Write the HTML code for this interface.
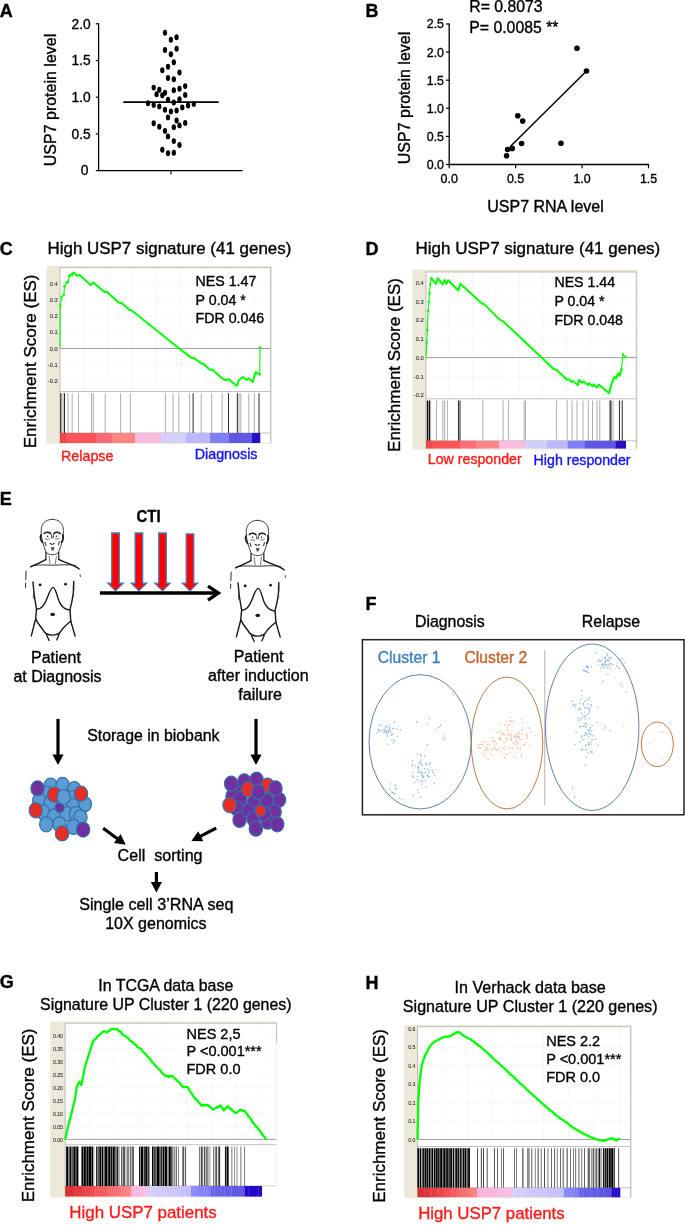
<!DOCTYPE html>
<html lang="en"><head><meta charset="utf-8"><title>Figure</title>
<style>html,body{margin:0;padding:0;background:#fff}svg{display:block}text{font-family:"Liberation Sans",Arial,Helvetica,sans-serif}</style>
</head><body>
<svg width="685" height="1225" viewBox="0 0 685 1225">
<rect width="685" height="1225" fill="#fff"/>
<text x="-0.2" y="16.8" font-size="18" text-anchor="start" fill="#000" stroke="#000" stroke-width="0.35" font-weight="bold" >A</text>
<path d="M98.6 23.2V170.6H242.5" fill="none" stroke="#000" stroke-width="1.3"/>
<path d="M95.8 170.6H98.6" stroke="#000" stroke-width="1.2"/>
<text x="88.4" y="175.4" font-size="13.8" text-anchor="end" fill="#000" stroke="#000" stroke-width="0.35" >0</text>
<path d="M95.8 133.9H98.6" stroke="#000" stroke-width="1.2"/>
<text x="90.8" y="138.7" font-size="13.8" text-anchor="end" fill="#000" stroke="#000" stroke-width="0.35" >0.5</text>
<path d="M95.8 97.2H98.6" stroke="#000" stroke-width="1.2"/>
<text x="90.8" y="102.0" font-size="13.8" text-anchor="end" fill="#000" stroke="#000" stroke-width="0.35" >1.0</text>
<path d="M95.8 60.5H98.6" stroke="#000" stroke-width="1.2"/>
<text x="90.8" y="65.3" font-size="13.8" text-anchor="end" fill="#000" stroke="#000" stroke-width="0.35" >1.5</text>
<path d="M95.8 23.8H98.6" stroke="#000" stroke-width="1.2"/>
<text x="90.8" y="28.6" font-size="13.8" text-anchor="end" fill="#000" stroke="#000" stroke-width="0.35" >2.0</text>
<path d="M171 170.6V174.6" stroke="#000" stroke-width="1.1"/>
<text transform="translate(56.4,100) rotate(-90)" font-size="16" text-anchor="middle" fill="#000" stroke="#000" stroke-width="0.35">USP7 protein level</text>
<path d="M123.3 102.1H218.7" stroke="#000" stroke-width="1.6"/>
<g fill="#000">
<ellipse cx="165.0" cy="32.7" rx="2.15" ry="2.95"/>
<ellipse cx="176.6" cy="37.2" rx="2.15" ry="2.95"/>
<ellipse cx="170.9" cy="39.8" rx="2.15" ry="2.95"/>
<ellipse cx="165.0" cy="50.0" rx="2.15" ry="2.95"/>
<ellipse cx="176.6" cy="48.8" rx="2.15" ry="2.95"/>
<ellipse cx="170.9" cy="54.3" rx="2.15" ry="2.95"/>
<ellipse cx="173.8" cy="62.3" rx="2.15" ry="2.95"/>
<ellipse cx="168.0" cy="66.8" rx="2.15" ry="2.95"/>
<ellipse cx="162.3" cy="70.3" rx="2.15" ry="2.95"/>
<ellipse cx="179.5" cy="72.5" rx="2.15" ry="2.95"/>
<ellipse cx="168.0" cy="78.0" rx="2.15" ry="2.95"/>
<ellipse cx="173.8" cy="79.3" rx="2.15" ry="2.95"/>
<ellipse cx="153.7" cy="87.6" rx="2.15" ry="2.95"/>
<ellipse cx="159.3" cy="89.8" rx="2.15" ry="2.95"/>
<ellipse cx="185.2" cy="86.1" rx="2.15" ry="2.95"/>
<ellipse cx="179.5" cy="88.8" rx="2.15" ry="2.95"/>
<ellipse cx="173.8" cy="90.3" rx="2.15" ry="2.95"/>
<ellipse cx="165" cy="92.7" rx="2.15" ry="2.95"/>
<ellipse cx="156.6" cy="94.2" rx="2.15" ry="2.95"/>
<ellipse cx="162.3" cy="95.3" rx="2.15" ry="2.95"/>
<ellipse cx="185.2" cy="94.9" rx="2.15" ry="2.95"/>
<ellipse cx="179.5" cy="99.2" rx="2.15" ry="2.95"/>
<ellipse cx="168" cy="99.6" rx="2.15" ry="2.95"/>
<ellipse cx="173.8" cy="102.5" rx="2.15" ry="2.95"/>
<ellipse cx="148" cy="103.3" rx="2.15" ry="2.95"/>
<ellipse cx="153.7" cy="104.9" rx="2.15" ry="2.95"/>
<ellipse cx="159.3" cy="106.4" rx="2.15" ry="2.95"/>
<ellipse cx="193.8" cy="103.9" rx="2.15" ry="2.95"/>
<ellipse cx="188.1" cy="105.5" rx="2.15" ry="2.95"/>
<ellipse cx="182.3" cy="107.4" rx="2.15" ry="2.95"/>
<ellipse cx="165" cy="109.8" rx="2.15" ry="2.95"/>
<ellipse cx="176.6" cy="110.5" rx="2.15" ry="2.95"/>
<ellipse cx="170.9" cy="111.5" rx="2.15" ry="2.95"/>
<ellipse cx="168" cy="117.4" rx="2.15" ry="2.95"/>
<ellipse cx="176.6" cy="120.5" rx="2.15" ry="2.95"/>
<ellipse cx="153.7" cy="123.3" rx="2.15" ry="2.95"/>
<ellipse cx="185.2" cy="122.9" rx="2.15" ry="2.95"/>
<ellipse cx="179.5" cy="125.4" rx="2.15" ry="2.95"/>
<ellipse cx="159.3" cy="126.8" rx="2.15" ry="2.95"/>
<ellipse cx="173.8" cy="127.2" rx="2.15" ry="2.95"/>
<ellipse cx="165" cy="130.9" rx="2.15" ry="2.95"/>
<ellipse cx="168" cy="136.4" rx="2.15" ry="2.95"/>
<ellipse cx="173.8" cy="141.1" rx="2.15" ry="2.95"/>
<ellipse cx="179.5" cy="145" rx="2.15" ry="2.95"/>
<ellipse cx="162.3" cy="149.7" rx="2.15" ry="2.95"/>
<ellipse cx="168" cy="153.2" rx="2.15" ry="2.95"/>
<ellipse cx="173.8" cy="152.8" rx="2.15" ry="2.95"/>
</g>
<text x="365.4" y="16.7" font-size="18" text-anchor="start" fill="#000" stroke="#000" stroke-width="0.35" font-weight="bold" >B</text>
<path d="M449.2 23.4V164.5H649.1" fill="none" stroke="#000" stroke-width="1.3"/>
<path d="M446 164.5H449.2" stroke="#000" stroke-width="1.2"/>
<text x="444" y="168.9" font-size="12.4" text-anchor="end" fill="#000" stroke="#000" stroke-width="0.35" >0.0</text>
<path d="M446 136.4H449.2" stroke="#000" stroke-width="1.2"/>
<text x="444" y="140.8" font-size="12.4" text-anchor="end" fill="#000" stroke="#000" stroke-width="0.35" >0.5</text>
<path d="M446 108.3H449.2" stroke="#000" stroke-width="1.2"/>
<text x="444" y="112.7" font-size="12.4" text-anchor="end" fill="#000" stroke="#000" stroke-width="0.35" >1.0</text>
<path d="M446 80.2H449.2" stroke="#000" stroke-width="1.2"/>
<text x="444" y="84.6" font-size="12.4" text-anchor="end" fill="#000" stroke="#000" stroke-width="0.35" >1.5</text>
<path d="M446 52.1H449.2" stroke="#000" stroke-width="1.2"/>
<text x="444" y="56.5" font-size="12.4" text-anchor="end" fill="#000" stroke="#000" stroke-width="0.35" >2.0</text>
<path d="M446 24.0H449.2" stroke="#000" stroke-width="1.2"/>
<text x="444" y="28.4" font-size="12.4" text-anchor="end" fill="#000" stroke="#000" stroke-width="0.35" >2.5</text>
<path d="M449.2 164.5V168.3" stroke="#000" stroke-width="1.2"/>
<text x="449.2" y="183.1" font-size="12.4" text-anchor="middle" fill="#000" stroke="#000" stroke-width="0.35" >0.0</text>
<path d="M515.6 164.5V168.3" stroke="#000" stroke-width="1.2"/>
<text x="515.6" y="183.1" font-size="12.4" text-anchor="middle" fill="#000" stroke="#000" stroke-width="0.35" >0.5</text>
<path d="M582.1 164.5V168.3" stroke="#000" stroke-width="1.2"/>
<text x="582.1" y="183.1" font-size="12.4" text-anchor="middle" fill="#000" stroke="#000" stroke-width="0.35" >1.0</text>
<path d="M648.5 164.5V168.3" stroke="#000" stroke-width="1.2"/>
<text x="648.5" y="183.1" font-size="12.4" text-anchor="middle" fill="#000" stroke="#000" stroke-width="0.35" >1.5</text>
<text x="545.5" y="212.2" font-size="16" text-anchor="middle" fill="#000" stroke="#000" stroke-width="0.35" >USP7 RNA level</text>
<text transform="translate(409.5,98) rotate(-90)" font-size="16" text-anchor="middle" fill="#000" stroke="#000" stroke-width="0.35">USP7 protein level</text>
<text x="469.3" y="11.7" font-size="15.8" text-anchor="start" fill="#000" stroke="#000" stroke-width="0.35" >R= 0.8073</text>
<text x="469.3" y="32.5" font-size="15.8" text-anchor="start" fill="#000" stroke="#000" stroke-width="0.35" >P= 0.0085 **</text>
<path d="M510.1 146.7L586.5 71" stroke="#000" stroke-width="1.5"/>
<g fill="#000">
<circle cx="577" cy="48.2" r="2.8"/>
<circle cx="586.5" cy="71" r="2.8"/>
<circle cx="517.8" cy="115.8" r="2.8"/>
<circle cx="522.7" cy="121.1" r="2.8"/>
<circle cx="521.6" cy="143.5" r="2.8"/>
<circle cx="560.9" cy="143.2" r="2.8"/>
<circle cx="507.6" cy="149.5" r="2.8"/>
<circle cx="512.2" cy="148.4" r="2.8"/>
<circle cx="506.6" cy="155.8" r="2.8"/>
</g>
<text x="-0.3" y="254.5" font-size="18" text-anchor="start" fill="#000" stroke="#000" stroke-width="0.35" font-weight="bold" >C</text>
<text x="47.5" y="253.5" font-size="16.95" text-anchor="start" fill="#000" stroke="#000" stroke-width="0.35" >High USP7 signature (41 genes)</text>
<text transform="translate(35.8,361.4) rotate(-90)" font-size="17.0" text-anchor="middle" fill="#000" stroke="#000" stroke-width="0.35">Enrichment Score (ES)</text>
<rect x="46.5" y="266" width="225.3" height="177.9" fill="#ece9d8"/>
<rect x="60" y="267.6" width="210.6" height="175.4" fill="#fff"/>
<path d="M83.6 267.6V391.5M107.9 267.6V391.5M132.2 267.6V391.5M156.5 267.6V391.5M180.8 267.6V391.5M205.1 267.6V391.5M229.4 267.6V391.5M253.7 267.6V391.5M60 283.5H270.6M60 299.8H270.6M60 316.1H270.6M60 332.3H270.6M60 348.5H270.6M60 364.9H270.6M60 381.3H270.6" stroke="#e2e2e2" stroke-width="0.6" stroke-dasharray="1 1.2" fill="none"/>
<path d="M60 267.6V443M60 267.6H270.6M270.6 267.6V443M60 391.5H270.6M60 433H270.6" stroke="#a8a8a8" stroke-width="0.7" fill="none"/>
<path d="M60 348.5H270.6" stroke="#8a8a8a" stroke-width="0.8"/>
<text x="57.8" y="285.6" font-size="5.8" text-anchor="end" fill="#333" stroke="#333" stroke-width="0.1" >0.4</text>
<text x="57.8" y="301.9" font-size="5.8" text-anchor="end" fill="#333" stroke="#333" stroke-width="0.1" >0.3</text>
<text x="57.8" y="318.2" font-size="5.8" text-anchor="end" fill="#333" stroke="#333" stroke-width="0.1" >0.2</text>
<text x="57.8" y="334.4" font-size="5.8" text-anchor="end" fill="#333" stroke="#333" stroke-width="0.1" >0.1</text>
<text x="57.8" y="350.6" font-size="5.8" text-anchor="end" fill="#333" stroke="#333" stroke-width="0.1" >0.0</text>
<text x="57.8" y="367.0" font-size="5.8" text-anchor="end" fill="#333" stroke="#333" stroke-width="0.1" >-0.1</text>
<text x="57.8" y="383.4" font-size="5.8" text-anchor="end" fill="#333" stroke="#333" stroke-width="0.1" >-0.2</text>
<g stroke-width="0.6">
<rect x="60.25" y="393.2" width="0.90" height="39.8" fill="#111"/>
<path d="M61.7 393.2V433" stroke="#777"/>
<path d="M63.1 393.2V433" stroke="#777"/>
<rect x="64.05" y="393.2" width="0.90" height="39.8" fill="#111"/>
<path d="M68.0 393.2V433" stroke="#777"/>
<path d="M72.2 393.2V433" stroke="#777"/>
<path d="M78.5 393.2V433" stroke="#777"/>
<path d="M91.5 393.2V433" stroke="#777"/>
<path d="M93.3 393.2V433" stroke="#777"/>
<path d="M105.2 393.2V433" stroke="#777"/>
<path d="M120.6 393.2V433" stroke="#777"/>
<path d="M130.4 393.2V433" stroke="#777"/>
<path d="M165.4 393.2V433" stroke="#777"/>
<path d="M173.1 393.2V433" stroke="#777"/>
<path d="M178.8 393.2V433" stroke="#777"/>
<path d="M189.6 393.2V433" stroke="#777"/>
<rect x="192.65" y="393.2" width="0.90" height="39.8" fill="#111"/>
<path d="M201.2 393.2V433" stroke="#777"/>
<path d="M211.7 393.2V433" stroke="#777"/>
<path d="M222.2 393.2V433" stroke="#777"/>
<rect x="228.05" y="393.2" width="0.90" height="39.8" fill="#111"/>
<rect x="236.85" y="393.2" width="0.90" height="39.8" fill="#111"/>
<path d="M239.0 393.2V433" stroke="#777"/>
<path d="M240.8 393.2V433" stroke="#777"/>
<path d="M248.8 393.2V433" stroke="#777"/>
<path d="M254.4 393.2V433" stroke="#777"/>
<rect x="258.55" y="393.2" width="0.90" height="39.8" fill="#111"/>
</g>
<rect x="60.0" y="433" width="6.3" height="10.0" fill="#f0484a"/>
<rect x="66.0" y="433" width="30.3" height="10.0" fill="#fb5557"/>
<rect x="96.0" y="433" width="16.3" height="10.0" fill="#fc6b7a"/>
<rect x="112.0" y="433" width="23.3" height="10.0" fill="#fc8686"/>
<rect x="135.0" y="433" width="26.3" height="10.0" fill="#fcbbdd"/>
<rect x="161.0" y="433" width="25.3" height="10.0" fill="#d2d0fb"/>
<rect x="186.0" y="433" width="24.3" height="10.0" fill="#bdb8fa"/>
<rect x="210.0" y="433" width="19.3" height="10.0" fill="#7f7ff6"/>
<rect x="229.0" y="433" width="23.3" height="10.0" fill="#6058e4"/>
<rect x="252.0" y="433" width="8.3" height="10.0" fill="#2a10c0"/>
<path d="M60.0 347.6L60.3 305.5L61.7 296.8L63.8 295.0L64.5 286.3L66.6 282.8L68.0 281.7L69.4 275.8" fill="none" stroke="#0f0" stroke-width="1.1" stroke-linejoin="round"/>
<g fill="#0f0"><circle cx="60.3" cy="305.5" r="1.25"/><circle cx="61.7" cy="296.8" r="1.25"/><circle cx="63.8" cy="295.0" r="1.25"/><circle cx="64.5" cy="286.3" r="1.25"/><circle cx="66.6" cy="282.8" r="1.25"/><circle cx="68.0" cy="281.7" r="1.25"/><circle cx="69.4" cy="275.8" r="1.25"/></g>
<path d="M259.7 374.6L260.0 347.6" fill="none" stroke="#0f0" stroke-width="1.1" stroke-linejoin="round"/>
<g fill="#0f0"><circle cx="259.7" cy="374.6" r="1.25"/><circle cx="260.0" cy="347.6" r="1.25"/></g>
<path d="M69.4 275.8L71.5 274.0L72.0 275.5L73.3 272.6L75.0 273.5L76.8 275.8L79.6 275.0L90.8 285.2L93.3 282.4L104.8 292.2L106.6 291.5L118.8 302.7L121.3 302.7L129.3 309.8L131.8 310.5L180.2 349.3L190.7 357.4L194.2 358.1L201.2 363.4L203.0 363.4L209.9 369.7L212.4 369.7L222.2 378.4L225.7 380.2L228.5 379.1L236.2 385.4L237.3 385.4L239.0 379.8L240.4 379.1L242.5 377.0L246.7 379.8L248.8 378.4L252.7 381.9L255.5 372.1L259.7 374.6" fill="none" stroke="#0f0" stroke-width="2.0" stroke-linejoin="round"/>
<text x="195.6" y="285.5" font-size="14.2" text-anchor="start" fill="#000" stroke="#000" stroke-width="0.35" >NES 1.47</text>
<text x="195.6" y="304.7" font-size="14.2" text-anchor="start" fill="#000" stroke="#000" stroke-width="0.35" >P 0.04 *</text>
<text x="195.6" y="323.4" font-size="14.2" text-anchor="start" fill="#000" stroke="#000" stroke-width="0.35" >FDR 0.046</text>
<text x="61" y="461.1" font-size="14.3" text-anchor="start" fill="#ff1a1a" stroke="#ff1a1a" stroke-width="0.35" >Relapse</text>
<text x="194.7" y="459.4" font-size="14.3" text-anchor="start" fill="#1414f0" stroke="#1414f0" stroke-width="0.35" >Diagnosis</text>
<text x="365.6" y="254.5" font-size="18" text-anchor="start" fill="#000" stroke="#000" stroke-width="0.35" font-weight="bold" >D</text>
<text x="415.5" y="253.5" font-size="17.0" text-anchor="start" fill="#000" stroke="#000" stroke-width="0.35" >High USP7 signature (41 genes)</text>
<text transform="translate(400.2,365) rotate(-90)" font-size="17.0" text-anchor="middle" fill="#000" stroke="#000" stroke-width="0.35">Enrichment Score (ES)</text>
<rect x="412.4" y="269.7" width="225.1" height="179.8" fill="#ece9d8"/>
<rect x="426" y="272" width="210.3" height="176.6" fill="#fff"/>
<path d="M448.8 272V398.8M472.4 272V398.8M495.9 272V398.8M519.5 272V398.8M543.0 272V398.8M566.5 272V398.8M590.1 272V398.8M613.6 272V398.8M426 282.6H636.3M426 301.4H636.3M426 320.1H636.3M426 338.9H636.3M426 357.6H636.3M426 376.4H636.3M426 395.2H636.3" stroke="#e2e2e2" stroke-width="0.6" stroke-dasharray="1 1.2" fill="none"/>
<path d="M426 272V448.6M426 272H636.3M636.3 272V448.6M426 398.8H636.3M426 440.8H636.3" stroke="#a8a8a8" stroke-width="0.7" fill="none"/>
<path d="M426 357.6H636.3" stroke="#8a8a8a" stroke-width="0.8"/>
<text x="423.8" y="284.7" font-size="5.8" text-anchor="end" fill="#333" stroke="#333" stroke-width="0.1" >0.4</text>
<text x="423.8" y="303.5" font-size="5.8" text-anchor="end" fill="#333" stroke="#333" stroke-width="0.1" >0.3</text>
<text x="423.8" y="322.2" font-size="5.8" text-anchor="end" fill="#333" stroke="#333" stroke-width="0.1" >0.2</text>
<text x="423.8" y="341.0" font-size="5.8" text-anchor="end" fill="#333" stroke="#333" stroke-width="0.1" >0.1</text>
<text x="423.8" y="359.7" font-size="5.8" text-anchor="end" fill="#333" stroke="#333" stroke-width="0.1" >0.0</text>
<text x="423.8" y="378.5" font-size="5.8" text-anchor="end" fill="#333" stroke="#333" stroke-width="0.1" >-0.1</text>
<text x="423.8" y="397.3" font-size="5.8" text-anchor="end" fill="#333" stroke="#333" stroke-width="0.1" >-0.2</text>
<g stroke-width="0.6">
<path d="M430.6 400.5V440.8" stroke="#777"/>
<path d="M436.5 400.5V440.8" stroke="#777"/>
<path d="M442.8 400.5V440.8" stroke="#777"/>
<path d="M444.6 400.5V440.8" stroke="#777"/>
<path d="M447.4 400.5V440.8" stroke="#777"/>
<rect x="458.15" y="400.5" width="0.90" height="40.3" fill="#111"/>
<rect x="459.55" y="400.5" width="0.90" height="40.3" fill="#111"/>
<path d="M482.8 400.5V440.8" stroke="#777"/>
<path d="M503.1 400.5V440.8" stroke="#777"/>
<path d="M508.4 400.5V440.8" stroke="#777"/>
<path d="M524.1 400.5V440.8" stroke="#777"/>
<path d="M525.5 400.5V440.8" stroke="#777"/>
<path d="M556.4 400.5V440.8" stroke="#777"/>
<path d="M567.2 400.5V440.8" stroke="#777"/>
<path d="M572.1 400.5V440.8" stroke="#777"/>
<path d="M577.0 400.5V440.8" stroke="#777"/>
<path d="M583.0 400.5V440.8" stroke="#777"/>
<path d="M588.3 400.5V440.8" stroke="#777"/>
<path d="M592.5 400.5V440.8" stroke="#777"/>
<path d="M597.0 400.5V440.8" stroke="#777"/>
<path d="M599.8 400.5V440.8" stroke="#777"/>
<rect x="609.55" y="400.5" width="0.90" height="40.3" fill="#111"/>
<rect x="610.55" y="400.5" width="0.90" height="40.3" fill="#111"/>
<path d="M613.1 400.5V440.8" stroke="#777"/>
<rect x="618.95" y="400.5" width="0.90" height="40.3" fill="#111"/>
<rect x="621.75" y="400.5" width="0.90" height="40.3" fill="#111"/>
<rect x="426.80" y="400.5" width="1.40" height="40.3" fill="#111"/>
<rect x="428.70" y="400.5" width="1.30" height="40.3" fill="#111"/>
</g>
<rect x="426.0" y="440.8" width="6.3" height="7.8" fill="#f0484a"/>
<rect x="432.0" y="440.8" width="28.3" height="7.8" fill="#fb5557"/>
<rect x="459.9" y="440.8" width="16.3" height="7.8" fill="#fc6b7a"/>
<rect x="475.9" y="440.8" width="23.3" height="7.8" fill="#fc8686"/>
<rect x="498.9" y="440.8" width="26.3" height="7.8" fill="#fcbbdd"/>
<rect x="524.9" y="440.8" width="22.3" height="7.8" fill="#d2d0fb"/>
<rect x="546.8" y="440.8" width="21.3" height="7.8" fill="#bdb8fa"/>
<rect x="567.8" y="440.8" width="17.3" height="7.8" fill="#7f7ff6"/>
<rect x="584.8" y="440.8" width="31.3" height="7.8" fill="#6058e4"/>
<rect x="615.7" y="440.8" width="10.3" height="7.8" fill="#2a10c0"/>
<path d="M426.0 357.4L426.7 342.3L427.4 330.1L428.1 310.8L428.8 302.0L429.5 293.3L430.2 284.5L431.3 278.2" fill="none" stroke="#0f0" stroke-width="1.1" stroke-linejoin="round"/>
<g fill="#0f0"><circle cx="426.7" cy="342.3" r="1.25"/><circle cx="427.4" cy="330.1" r="1.25"/><circle cx="428.1" cy="310.8" r="1.25"/><circle cx="428.8" cy="302.0" r="1.25"/><circle cx="429.5" cy="293.3" r="1.25"/><circle cx="430.2" cy="284.5" r="1.25"/><circle cx="431.3" cy="278.2" r="1.25"/></g>
<path d="M621.5 369.3L622.9 354.6L625.7 357.1" fill="none" stroke="#0f0" stroke-width="1.1" stroke-linejoin="round"/>
<g fill="#0f0"><circle cx="621.5" cy="369.3" r="1.25"/><circle cx="622.9" cy="354.6" r="1.25"/><circle cx="625.7" cy="357.1" r="1.25"/></g>
<path d="M431.3 278.2L435.8 283.8L437.6 278.2L442.8 284.5L444.6 280.0L446.3 283.8L448.1 280.3L458.3 290.5L460.4 283.8L482.1 303.8L484.2 304.1L499.6 319.6L503.1 321.3L543.4 359.2L553.9 369.3L556.4 369.7L566.9 379.8L569.0 379.1L571.4 381.9L573.2 380.9L577.7 385.4L579.1 379.8L581.9 382.6L583.7 381.6L587.9 385.1L589.0 383.3L592.5 386.1L593.5 384.4L597.0 387.5L598.8 384.7L609.3 393.1L611.7 383.3L614.5 376.7L616.3 378.4L618.0 373.2L619.8 375.6L621.5 369.3" fill="none" stroke="#0f0" stroke-width="2.0" stroke-linejoin="round"/>
<text x="554.4" y="287.3" font-size="14.2" text-anchor="start" fill="#000" stroke="#000" stroke-width="0.35" >NES 1.44</text>
<text x="554.4" y="306.1" font-size="14.2" text-anchor="start" fill="#000" stroke="#000" stroke-width="0.35" >P 0.04 *</text>
<text x="554.4" y="324.9" font-size="14.2" text-anchor="start" fill="#000" stroke="#000" stroke-width="0.35" >FDR 0.048</text>
<text x="427.8" y="464.4" font-size="14.2" text-anchor="start" fill="#ff1a1a" stroke="#ff1a1a" stroke-width="0.35" >Low responder</text>
<text x="533.6" y="464.6" font-size="14.2" text-anchor="start" fill="#1414f0" stroke="#1414f0" stroke-width="0.35" >High responder</text>
<text x="-0.3" y="505.1" font-size="18" text-anchor="start" fill="#000" stroke="#000" stroke-width="0.35" font-weight="bold" >E</text>
<g transform="translate(10,510) scale(0.14599)" fill="none" stroke="#161616" stroke-width="8.5" stroke-linecap="round" stroke-linejoin="round">
<path d="M290 64C245 64 214 92 213 140C212 185 226 240 247 288C262 312 318 312 333 288C354 240 367 185 366 140C366 92 336 64 290 64Z" stroke-width="6" stroke="#2a2a2a"/>
<path d="M213 170C205 185 211 207 223 222M361 170C369 185 363 207 353 222" stroke-width="11"/>
<path d="M234 162C242 150 266 150 278 160M344 162C336 150 312 150 302 160" stroke-width="10"/>
<path d="M278 160C284 170 286 180 287 192M302 160C298 170 296 180 295 190" stroke-width="6"/>
<path d="M244 197C252 201 262 201 270 198M312 198C320 200 328 198 336 194" stroke-width="5" stroke="#333"/>
<g fill="#222" stroke="none"><circle cx="257" cy="180" r="5.5"/><circle cx="318" cy="180" r="5.5"/></g>
<path d="M276 230L284 234M294 234L302 230M284 258C288 264 296 264 300 258M287 272L297 272" stroke-width="8"/>
<path d="M240 222L246 244M338 216L332 238" stroke-width="8" stroke="#444"/>
<path d="M246 290L246 338M334 290L334 338" stroke-width="8"/>
<path d="M268 318L274 368M318 318L310 368" stroke-width="4.5" stroke="#333"/>
<path d="M246 338C215 360 170 372 140 390M334 338C370 360 440 372 474 404" stroke-width="9"/>
<path d="M150 382C200 372 250 378 290 378C340 378 400 370 448 380" stroke-width="6"/>
<path d="M110 418L106 530" stroke="#333" stroke-width="7" stroke-dasharray="60 22 40 200"/>
<path d="M480 442L482 456" stroke="#556" stroke-width="7"/>
<path d="M157 492C160 540 170 620 182 680C178 705 178 725 176 745L146 862" stroke-width="9.5"/>
<path d="M162 520L160 605" stroke-width="5" stroke="#333"/>
<path d="M436 490C440 540 425 630 410 684C414 710 414 735 416 760L446 864" stroke-width="9.5"/>
<path d="M432 520L436 590" stroke-width="5" stroke="#333"/>
<path d="M182 680C215 682 238 650 256 600C270 560 282 530 296 530C310 530 320 580 334 620C350 662 375 682 410 686" stroke-width="9.5"/>
<path d="M176 745C190 782 215 800 236 836C256 862 320 866 345 836C360 806 385 786 416 762" stroke-width="9.5"/>
<path d="M250 854L268 894M336 852L320 890" stroke-width="9"/>
<g fill="#111" stroke="none"><circle cx="206" cy="513" r="10"/><circle cx="380" cy="508" r="9"/><ellipse cx="292" cy="715" rx="16" ry="11"/></g>
</g>
<g transform="translate(215.1,511) scale(0.14599)" fill="none" stroke="#161616" stroke-width="8.5" stroke-linecap="round" stroke-linejoin="round">
<path d="M290 64C245 64 214 92 213 140C212 185 226 240 247 288C262 312 318 312 333 288C354 240 367 185 366 140C366 92 336 64 290 64Z" stroke-width="6" stroke="#2a2a2a"/>
<path d="M213 170C205 185 211 207 223 222M361 170C369 185 363 207 353 222" stroke-width="11"/>
<path d="M234 162C242 150 266 150 278 160M344 162C336 150 312 150 302 160" stroke-width="10"/>
<path d="M278 160C284 170 286 180 287 192M302 160C298 170 296 180 295 190" stroke-width="6"/>
<path d="M244 197C252 201 262 201 270 198M312 198C320 200 328 198 336 194" stroke-width="5" stroke="#333"/>
<g fill="#222" stroke="none"><circle cx="257" cy="180" r="5.5"/><circle cx="318" cy="180" r="5.5"/></g>
<path d="M276 230L284 234M294 234L302 230M284 258C288 264 296 264 300 258M287 272L297 272" stroke-width="8"/>
<path d="M240 222L246 244M338 216L332 238" stroke-width="8" stroke="#444"/>
<path d="M246 290L246 338M334 290L334 338" stroke-width="8"/>
<path d="M268 318L274 368M318 318L310 368" stroke-width="4.5" stroke="#333"/>
<path d="M246 338C215 360 170 372 140 390M334 338C370 360 440 372 474 404" stroke-width="9"/>
<path d="M150 382C200 372 250 378 290 378C340 378 400 370 448 380" stroke-width="6"/>
<path d="M110 418L106 530" stroke="#333" stroke-width="7" stroke-dasharray="60 22 40 200"/>
<path d="M480 442L482 456" stroke="#556" stroke-width="7"/>
<path d="M157 492C160 540 170 620 182 680C178 705 178 725 176 745L146 862" stroke-width="9.5"/>
<path d="M162 520L160 605" stroke-width="5" stroke="#333"/>
<path d="M436 490C440 540 425 630 410 684C414 710 414 735 416 760L446 864" stroke-width="9.5"/>
<path d="M432 520L436 590" stroke-width="5" stroke="#333"/>
<path d="M182 680C215 682 238 650 256 600C270 560 282 530 296 530C310 530 320 580 334 620C350 662 375 682 410 686" stroke-width="9.5"/>
<path d="M176 745C190 782 215 800 236 836C256 862 320 866 345 836C360 806 385 786 416 762" stroke-width="9.5"/>
<path d="M250 854L268 894M336 852L320 890" stroke-width="9"/>
<g fill="#111" stroke="none"><circle cx="206" cy="513" r="10"/><circle cx="380" cy="508" r="9"/><ellipse cx="292" cy="715" rx="16" ry="11"/></g>
</g>
<text x="136.6" y="521.9" font-size="17" font-weight="bold" stroke="#000" stroke-width="0.4" textLength="24" lengthAdjust="spacingAndGlyphs">CTI</text>
<path d="M111.7 533H119.3V583.2H123.2L115.5 590.9L107.8 583.2H111.7Z" fill="#fe0000" stroke="#4a7ebb" stroke-width="1.3" stroke-linejoin="miter"/>
<path d="M135.1 533H142.70000000000002V583.2H146.6L138.9 590.9L131.20000000000002 583.2H135.1Z" fill="#fe0000" stroke="#4a7ebb" stroke-width="1.3" stroke-linejoin="miter"/>
<path d="M158.7 533H166.3V583.2H170.2L162.5 590.9L154.8 583.2H158.7Z" fill="#fe0000" stroke="#4a7ebb" stroke-width="1.3" stroke-linejoin="miter"/>
<path d="M186.2 533.9H193.8V583.2H197.7L190 590.9L182.3 583.2H186.2Z" fill="#fe0000" stroke="#4a7ebb" stroke-width="1.3" stroke-linejoin="miter"/>
<path d="M99.9 593H217" stroke="#000" stroke-width="3.3"/>
<path d="M208 586.2L218.4 593L208 600.2" fill="none" stroke="#000" stroke-width="3.3" stroke-linejoin="miter"/>
<text x="55.9" y="662.8" font-size="16.05" text-anchor="middle" fill="#000" stroke="#000" stroke-width="0.35" >Patient</text>
<text x="57.5" y="682.3" font-size="16.05" text-anchor="middle" fill="#000" stroke="#000" stroke-width="0.35" >at Diagnosis</text>
<text x="258.6" y="662" font-size="16.05" text-anchor="middle" fill="#000" stroke="#000" stroke-width="0.35" >Patient</text>
<text x="258.3" y="681.3" font-size="16.05" text-anchor="middle" fill="#000" stroke="#000" stroke-width="0.35" >after induction</text>
<text x="260.2" y="700" font-size="16.05" text-anchor="middle" fill="#000" stroke="#000" stroke-width="0.35" >failure</text>
<text x="87.3" y="741.3" font-size="15.85" text-anchor="start" fill="#000" stroke="#000" stroke-width="0.35" >Storage in biobank</text>
<path d="M58 718.9V755.5" stroke="#000" stroke-width="3.2"/>
<path d="M52.4 754.5H63.6L58 765Z" fill="#000"/>
<path d="M256 718.9V755.5" stroke="#000" stroke-width="3.2"/>
<path d="M250.4 754.5H261.6L256 765Z" fill="#000"/>
<g transform="translate(20,770) scale(0.17519)" stroke="#3570a8" stroke-width="7">
<ellipse cx="175" cy="90" rx="38" ry="43" fill="#5b9bd5"/>
<ellipse cx="243" cy="85" rx="38" ry="43" fill="#5b9bd5"/>
<ellipse cx="310" cy="110" rx="38" ry="43" fill="#5b9bd5"/>
<ellipse cx="150" cy="135" rx="38" ry="43" fill="#5b9bd5"/>
<ellipse cx="110" cy="175" rx="38" ry="43" fill="#5b9bd5"/>
<ellipse cx="370" cy="195" rx="38" ry="43" fill="#5b9bd5"/>
<ellipse cx="300" cy="160" rx="38" ry="43" fill="#5b9bd5"/>
<ellipse cx="300" cy="205" rx="38" ry="43" fill="#5b9bd5"/>
<ellipse cx="175" cy="190" rx="38" ry="43" fill="#5b9bd5"/>
<ellipse cx="130" cy="240" rx="38" ry="43" fill="#5b9bd5"/>
<ellipse cx="195" cy="265" rx="38" ry="43" fill="#5b9bd5"/>
<ellipse cx="265" cy="250" rx="38" ry="43" fill="#5b9bd5"/>
<ellipse cx="320" cy="250" rx="38" ry="43" fill="#5b9bd5"/>
<ellipse cx="345" cy="270" rx="38" ry="43" fill="#5b9bd5"/>
<ellipse cx="150" cy="310" rx="38" ry="43" fill="#5b9bd5"/>
<ellipse cx="225" cy="310" rx="38" ry="43" fill="#5b9bd5"/>
<ellipse cx="305" cy="325" rx="38" ry="43" fill="#5b9bd5"/>
<ellipse cx="226" cy="214" rx="26" ry="28" fill="#7030a0"/>
<ellipse cx="100" cy="105" rx="38" ry="43" fill="#7030a0"/>
<ellipse cx="195" cy="140" rx="38" ry="43" fill="#e62e25"/>
<ellipse cx="250" cy="155" rx="38" ry="43" fill="#5b9bd5"/>
<ellipse cx="348" cy="135" rx="38" ry="43" fill="#e62e25"/>
<ellipse cx="90" cy="230" rx="38" ry="43" fill="#e62e25"/>
<ellipse cx="360" cy="340" rx="38" ry="43" fill="#7030a0"/>
<ellipse cx="240" cy="362" rx="38" ry="43" fill="#e62e25"/>
</g>
<g transform="translate(180,770) scale(0.17519)" stroke="#3570a8" stroke-width="7">
<ellipse cx="345" cy="112" rx="38" ry="43" fill="#7030a0"/>
<ellipse cx="367" cy="65" rx="38" ry="43" fill="#7030a0"/>
<ellipse cx="437" cy="55" rx="38" ry="43" fill="#7030a0"/>
<ellipse cx="500" cy="90" rx="38" ry="43" fill="#e62e25"/>
<ellipse cx="300" cy="150" rx="38" ry="43" fill="#7030a0"/>
<ellipse cx="345" cy="165" rx="38" ry="43" fill="#7030a0"/>
<ellipse cx="565" cy="170" rx="38" ry="43" fill="#7030a0"/>
<ellipse cx="495" cy="175" rx="38" ry="43" fill="#7030a0"/>
<ellipse cx="420" cy="190" rx="38" ry="43" fill="#7030a0"/>
<ellipse cx="325" cy="220" rx="38" ry="43" fill="#7030a0"/>
<ellipse cx="390" cy="235" rx="38" ry="43" fill="#7030a0"/>
<ellipse cx="540" cy="240" rx="38" ry="43" fill="#7030a0"/>
<ellipse cx="340" cy="285" rx="38" ry="43" fill="#7030a0"/>
<ellipse cx="420" cy="280" rx="38" ry="43" fill="#7030a0"/>
<ellipse cx="500" cy="295" rx="38" ry="43" fill="#7030a0"/>
<ellipse cx="480" cy="250" rx="38" ry="43" fill="#7030a0"/>
<ellipse cx="460" cy="232" rx="30" ry="32" fill="#e62e25"/>
<ellipse cx="292" cy="78" rx="38" ry="43" fill="#7030a0"/>
<ellipse cx="388" cy="110" rx="38" ry="43" fill="#e62e25"/>
<ellipse cx="447" cy="125" rx="38" ry="43" fill="#7030a0"/>
<ellipse cx="545" cy="105" rx="38" ry="43" fill="#7030a0"/>
<ellipse cx="283" cy="200" rx="38" ry="43" fill="#e62e25"/>
<ellipse cx="555" cy="310" rx="38" ry="43" fill="#7030a0"/>
<ellipse cx="433" cy="335" rx="38" ry="43" fill="#7030a0"/>
</g>
<path d="M103.2 828.2L118.1 839.2" stroke="#000" stroke-width="3.2"/>
<path d="M113.9 843.1L120.6 834.1L125.7 844.8Z" fill="#000"/>
<path d="M216.2 828.2L199.8 836.6" stroke="#000" stroke-width="3.2"/>
<path d="M198.2 831.2L203.3 841.2L191.4 841.0Z" fill="#000"/>
<text x="117.6" y="861" font-size="16.1" stroke="#000" stroke-width="0.35" style="white-space:pre" xml:space="preserve">Cell  sorting</text>
<path d="M156.4 872V882.9" stroke="#000" stroke-width="3.2"/>
<path d="M150.8 881.9H162.0L156.4 892.4Z" fill="#000"/>
<text x="156.3" y="909.9" font-size="16.15" text-anchor="middle" fill="#000" stroke="#000" stroke-width="0.35" >Single cell 3’RNA seq</text>
<text x="155.9" y="928.6" font-size="16" text-anchor="middle" fill="#000" stroke="#000" stroke-width="0.35" >10X genomics</text>
<text x="365.4" y="610" font-size="18" text-anchor="start" fill="#000" stroke="#000" stroke-width="0.35" font-weight="bold" >F</text>
<text x="449.8" y="626.5" font-size="15.9" text-anchor="middle" fill="#000" stroke="#000" stroke-width="0.35" >Diagnosis</text>
<text x="611" y="626.5" font-size="15.9" text-anchor="middle" fill="#000" stroke="#000" stroke-width="0.35" >Relapse</text>
<rect x="362.4" y="639.7" width="321.6" height="175.1" fill="#fff" stroke="#222" stroke-width="1.5"/>
<text x="377.7" y="663" font-size="15.7" text-anchor="start" fill="#3f7fbf" stroke="#3f7fbf" stroke-width="0.35" >Cluster 1</text>
<text x="464.5" y="663" font-size="15.7" text-anchor="start" fill="#c8602a" stroke="#c8602a" stroke-width="0.35" >Cluster 2</text>
<path d="M544.8 650V805.5" stroke="#aaa" stroke-width="0.9"/>
<ellipse cx="420.1" cy="741.8" rx="51.1" ry="67.2" fill="none" stroke="#587ca6" stroke-width="0.95"/>
<ellipse cx="507" cy="743" rx="35.8" ry="66" fill="none" stroke="#ba7440" stroke-width="0.95"/>
<ellipse cx="592.2" cy="727.2" rx="46.7" ry="83.2" fill="none" stroke="#587ca6" stroke-width="0.95"/>
<ellipse cx="657.3" cy="744.3" rx="16" ry="22.3" fill="none" stroke="#ba7440" stroke-width="0.95"/>
<path d="M379.3 731.7h.1M389.7 728.0h.1M378.8 729.9h.1M387.3 734.6h.1M379.4 724.9h.1M388.3 732.1h.1M392.2 734.2h.1M384.6 729.0h.1M397.0 729.0h.1M381.4 725.5h.1M385.5 730.7h.1M383.4 729.9h.1M386.3 733.0h.1M390.2 731.0h.1M376.7 733.0h.1M378.4 729.4h.1M378.2 730.2h.1M381.4 731.0h.1M400.5 729.9h.1M389.0 724.7h.1M383.7 732.9h.1M384.6 731.7h.1M385.5 726.0h.1M387.7 726.8h.1M393.8 728.1h.1M388.2 730.2h.1M389.5 727.7h.1M389.7 729.6h.1M390.9 732.7h.1M385.7 727.0h.1M388.6 732.1h.1M392.7 728.6h.1M387.6 732.2h.1M386.4 731.0h.1M391.5 735.3h.1M387.3 736.1h.1M392.9 742.7h.1M394.3 741.1h.1M393.6 739.9h.1M391.5 740.1h.1M397.1 736.3h.1M388.4 744.3h.1M416.6 722.0h.1M427.4 724.3h.1M429.4 718.5h.1M435.5 729.6h.1M439.1 727.2h.1M440.5 725.2h.1M444.0 734.5h.1M444.9 737.4h.1M444.0 739.5h.1M427.4 744.7h.1M452.2 692.8h.1M453.1 695.1h.1M394.4 722.0h.1M422.8 777.8h.1M426.1 763.1h.1M434.3 783.5h.1M422.5 776.3h.1M422.2 764.8h.1M420.9 773.6h.1M427.4 776.0h.1M421.8 780.5h.1M417.5 776.6h.1M427.4 769.0h.1M412.1 764.7h.1M422.8 774.7h.1M429.7 764.0h.1M421.5 775.6h.1M420.7 754.4h.1M425.8 787.2h.1M426.8 764.6h.1M419.4 772.6h.1M434.6 775.3h.1M422.1 781.9h.1M421.1 784.1h.1M417.9 767.7h.1M425.3 781.0h.1M425.0 773.1h.1M412.0 766.0h.1M418.3 767.3h.1M424.6 768.7h.1M425.7 771.6h.1M419.8 771.8h.1M423.8 777.0h.1M419.0 769.4h.1M414.4 782.3h.1M429.2 769.8h.1M419.0 762.4h.1M422.4 772.5h.1M433.0 772.7h.1M417.4 753.9h.1M428.9 772.3h.1M413.1 772.3h.1M413.1 795.4h.1M427.4 775.0h.1M420.6 756.0h.1M420.9 760.1h.1M424.7 756.0h.1M416.8 779.6h.1M430.2 762.7h.1M413.5 777.2h.1M426.0 764.1h.1M417.9 766.2h.1M415.3 766.3h.1M428.1 775.9h.1M432.3 770.4h.1M420.8 764.1h.1M420.9 761.8h.1M412.2 775.9h.1M429.1 776.9h.1M428.5 772.8h.1M417.8 771.6h.1M419.6 763.2h.1M412.6 760.6h.1M421.5 772.1h.1M419.0 781.0h.1M417.7 790.0h.1M418.9 792.9h.1M420.1 796.7h.1M393.0 792.6h.1M396.6 788.5h.1M385.4 793.1h.1M389.9 794.7h.1M393.5 793.8h.1M395.0 784.8h.1M394.9 788.9h.1M389.7 789.6h.1M395.0 793.5h.1M395.9 786.0h.1M390.3 783.9h.1M392.0 792.6h.1M399.6 797.9h.1M402.0 799.6h.1M602.1 659.8h.1M608.3 664.3h.1M604.1 662.6h.1M597.9 665.1h.1M602.4 663.9h.1M601.3 660.9h.1M609.1 658.0h.1M624.9 662.8h.1M607.1 660.0h.1M618.8 668.7h.1M609.7 657.4h.1M604.1 665.5h.1M604.0 658.2h.1M599.3 659.8h.1M607.7 660.3h.1M607.8 674.4h.1M620.1 658.8h.1M610.0 663.3h.1M606.7 667.3h.1M605.3 661.7h.1M605.0 662.6h.1M616.6 666.2h.1M598.2 661.2h.1M602.0 666.3h.1M609.2 666.6h.1M607.2 655.2h.1M610.8 663.9h.1M611.2 657.7h.1M608.2 660.2h.1M602.8 664.4h.1M610.1 659.3h.1M595.6 652.9h.1M603.6 667.6h.1M607.2 653.8h.1M601.6 664.7h.1M619.3 667.8h.1M610.2 663.8h.1M600.2 661.1h.1M605.3 659.8h.1M608.1 661.4h.1M610.0 668.9h.1M612.8 664.7h.1M605.9 656.8h.1M606.8 665.2h.1M600.6 668.1h.1M605.3 664.5h.1M605.3 657.9h.1M622.1 658.2h.1M588.4 667.5h.1M586.5 667.0h.1M584.5 671.0h.1M591.4 666.9h.1M585.8 671.0h.1M583.9 670.5h.1M583.4 670.2h.1M587.0 671.7h.1M586.8 666.0h.1M587.7 666.3h.1M587.9 672.4h.1M587.5 667.5h.1M620.8 684.0h.1M622.2 686.4h.1M626.0 692.2h.1M603.2 681.1h.1M601.8 682.8h.1M589.8 707.7h.1M575.5 704.9h.1M591.1 705.2h.1M583.5 705.0h.1M573.0 704.1h.1M584.9 707.9h.1M581.8 695.6h.1M589.9 710.6h.1M588.8 713.6h.1M580.2 703.6h.1M584.6 715.6h.1M573.0 705.6h.1M578.6 709.7h.1M591.4 705.2h.1M575.6 707.0h.1M581.1 698.7h.1M588.0 704.0h.1M586.8 699.9h.1M589.2 699.2h.1M589.0 697.3h.1M590.9 704.8h.1M573.7 705.6h.1M584.8 701.6h.1M579.9 708.2h.1M581.8 690.7h.1M580.3 709.0h.1M584.5 712.1h.1M578.8 720.2h.1M587.5 708.4h.1M589.1 711.8h.1M583.4 703.5h.1M588.8 709.0h.1M571.8 701.0h.1M585.5 707.4h.1M588.5 744.5h.1M587.9 752.8h.1M584.4 735.4h.1M588.7 745.4h.1M590.9 751.9h.1M585.0 749.1h.1M589.4 729.8h.1M586.5 757.2h.1M590.9 734.8h.1M576.0 732.5h.1M583.9 739.6h.1M598.0 745.4h.1M588.7 730.7h.1M581.6 737.1h.1M585.0 765.2h.1M585.3 733.5h.1M592.5 739.6h.1M581.4 750.2h.1M585.7 727.3h.1M588.7 743.2h.1M585.6 745.0h.1M591.0 731.2h.1M577.6 717.9h.1M586.6 749.7h.1M591.9 751.1h.1M595.9 739.0h.1M592.1 725.5h.1M590.4 742.3h.1M586.7 735.0h.1M582.0 740.1h.1M593.2 735.7h.1M589.7 733.1h.1M588.4 730.1h.1M589.0 737.0h.1M588.7 733.6h.1M581.7 736.0h.1M592.0 752.7h.1M585.7 745.9h.1M590.7 742.3h.1M579.9 741.7h.1M582.7 749.2h.1M590.9 744.3h.1M575.3 744.3h.1M590.5 727.7h.1M591.7 739.6h.1M586.3 732.7h.1M580.1 718.9h.1M596.9 722.6h.1M585.1 717.6h.1M581.7 718.2h.1M580.6 726.5h.1M583.2 726.4h.1M579.5 726.8h.1M584.2 725.3h.1M583.8 716.2h.1M589.2 718.8h.1M583.7 716.2h.1M585.1 719.1h.1M585.4 723.4h.1M581.5 713.2h.1M586.0 726.7h.1M587.1 714.7h.1M586.7 723.6h.1M585.4 723.9h.1M604.7 725.8h.1M606.2 727.8h.1M610.0 730.7h.1M604.1 729.6h.1M572.6 788.5h.1M574.6 796.7h.1" stroke="#78a5d6" stroke-width="1.35" stroke-linecap="round" fill="none" opacity="0.85"/>
<path d="M391.8 791.5h.1M393.8 793.2h.1M504.4 742.6h.1M517.3 747.3h.1M502.7 734.0h.1M505.9 754.8h.1M526.7 736.9h.1M516.4 740.1h.1M515.8 737.5h.1M508.2 729.8h.1M507.3 753.8h.1M520.1 739.2h.1M510.9 740.3h.1M517.2 733.7h.1M516.1 741.1h.1M503.6 734.2h.1M500.3 732.3h.1M522.0 719.0h.1M509.7 734.9h.1M506.1 741.2h.1M527.3 738.5h.1M511.2 734.7h.1M512.8 747.1h.1M507.6 730.8h.1M497.0 732.4h.1M497.7 750.4h.1M517.6 737.0h.1M530.6 732.0h.1M523.5 744.9h.1M493.2 729.1h.1M503.1 748.2h.1M528.1 727.6h.1M525.9 734.8h.1M508.2 735.6h.1M507.8 725.2h.1M500.1 730.9h.1M521.5 755.7h.1M492.1 738.7h.1M504.0 757.0h.1M519.7 732.7h.1M525.4 742.5h.1M493.2 737.6h.1M510.6 740.0h.1M514.8 736.5h.1M515.2 734.5h.1M504.1 753.1h.1M518.3 742.5h.1M493.9 740.5h.1M522.2 727.8h.1M526.5 734.7h.1M518.3 737.8h.1M517.3 748.9h.1M510.1 752.8h.1M503.1 733.1h.1M521.1 729.8h.1M509.9 747.4h.1M526.5 723.3h.1M521.5 754.0h.1M527.8 735.8h.1M505.9 738.0h.1M499.2 739.0h.1M511.1 738.6h.1M527.7 735.9h.1M496.8 750.2h.1M500.0 737.4h.1M511.5 736.9h.1M501.0 738.9h.1M512.9 748.8h.1M523.3 744.6h.1M522.1 722.3h.1M503.1 741.8h.1M520.8 749.3h.1M519.0 736.9h.1M513.8 737.7h.1M517.2 744.6h.1M508.6 733.4h.1M504.2 749.6h.1M530.1 745.7h.1M524.8 745.0h.1M514.1 744.9h.1M500.5 739.4h.1M505.3 746.5h.1M506.3 739.5h.1M519.7 749.9h.1M502.9 733.0h.1M522.4 729.3h.1M518.5 734.2h.1M510.4 724.9h.1M521.7 734.4h.1M504.6 757.7h.1M518.1 736.1h.1M516.4 752.4h.1M513.6 743.2h.1M518.9 731.3h.1M514.6 735.2h.1M499.2 748.4h.1M521.7 739.1h.1M500.5 724.5h.1M519.3 738.0h.1M492.9 741.5h.1M495.0 741.5h.1M515.6 742.2h.1M516.3 740.6h.1M499.3 738.0h.1M507.0 738.3h.1M517.4 744.1h.1M518.2 737.3h.1M493.8 745.2h.1M508.1 748.3h.1M500.6 740.2h.1M511.8 738.9h.1M504.6 725.4h.1M520.1 746.9h.1M511.7 731.3h.1M516.5 743.8h.1M511.4 739.6h.1M529.6 728.3h.1M504.8 724.8h.1M504.3 734.5h.1M501.1 735.3h.1M535.2 735.3h.1M514.3 757.5h.1M486.3 741.5h.1M489.2 745.0h.1M497.2 743.7h.1M482.9 742.1h.1M487.3 744.7h.1M486.2 747.5h.1M482.7 753.3h.1M492.7 749.4h.1M480.9 744.4h.1M488.4 759.6h.1M483.7 745.7h.1M482.2 744.3h.1M480.4 748.2h.1M495.9 749.1h.1M483.4 742.1h.1M488.0 749.0h.1M478.8 744.4h.1M486.4 753.6h.1M490.7 750.0h.1M484.6 750.5h.1M486.6 758.6h.1M479.4 747.5h.1M494.8 748.0h.1M495.8 748.9h.1M487.6 747.5h.1M477.8 744.9h.1M500.9 752.0h.1M490.5 753.3h.1M490.3 753.6h.1M484.9 748.1h.1M493.0 747.6h.1M478.1 748.1h.1M483.1 751.8h.1M482.0 744.5h.1M484.5 755.9h.1M486.3 749.8h.1M486.7 750.4h.1M492.6 755.2h.1M507.1 727.5h.1M510.0 720.7h.1M514.2 721.3h.1M513.4 725.9h.1M508.2 724.0h.1M511.3 721.5h.1M505.9 720.6h.1M509.7 717.4h.1M513.2 721.0h.1M509.3 720.7h.1M597.4 706.8h.1M598.3 707.7h.1M623.1 725.8h.1M614.3 677.6h.1M617.8 663.0h.1M659.3 725.2h.1M661.1 731.6h.1M662.5 732.2h.1M666.0 733.1h.1M653.8 739.8h.1M650.0 742.4h.1M661.6 758.8h.1" stroke="#f9b294" stroke-width="1.35" stroke-linecap="round" fill="none" opacity="0.85"/>
<text x="-0.2" y="988" font-size="18" text-anchor="start" fill="#000" stroke="#000" stroke-width="0.35" font-weight="bold" >G</text>
<text x="165.8" y="991.1" font-size="15.9" text-anchor="middle" fill="#000" stroke="#000" stroke-width="0.35" >In TCGA data base</text>
<text x="165.8" y="1010.2" font-size="15.9" text-anchor="middle" fill="#000" stroke="#000" stroke-width="0.35" >Signature UP Cluster 1 (220 genes)</text>
<text transform="translate(34,1115.4) rotate(-90)" font-size="17.0" text-anchor="middle" fill="#000" stroke="#000" stroke-width="0.35">Enrichment Score (ES)</text>
<rect x="50.2" y="1021.6" width="227.1" height="175.9" fill="#ece9d8"/>
<rect x="65.2" y="1023.2" width="211.2" height="173.4" fill="#fff"/>
<path d="M89.1 1023.2V1144.7M113.7 1023.2V1144.7M138.3 1023.2V1144.7M162.9 1023.2V1144.7M187.5 1023.2V1144.7M212.1 1023.2V1144.7M236.7 1023.2V1144.7M261.3 1023.2V1144.7M65.2 1139.4H276.4M65.2 1126.5H276.4M65.2 1113.5H276.4M65.2 1100.6H276.4M65.2 1087.6H276.4M65.2 1074.7H276.4M65.2 1061.7H276.4M65.2 1048.8H276.4M65.2 1035.8H276.4" stroke="#e2e2e2" stroke-width="0.6" stroke-dasharray="1 1.2" fill="none"/>
<path d="M65.2 1023.2V1196.6M65.2 1023.2H276.4M276.4 1023.2V1043M65.2 1144.7H276.4M65.2 1186H276.4" stroke="#a8a8a8" stroke-width="0.7" fill="none"/>
<path d="M65.2 1139.4H276.4" stroke="#8a8a8a" stroke-width="0.8"/>
<text x="63.0" y="1141.5" font-size="5.2" text-anchor="end" fill="#333" stroke="#333" stroke-width="0.1" >0.00</text>
<text x="63.0" y="1128.5" font-size="5.2" text-anchor="end" fill="#333" stroke="#333" stroke-width="0.1" >0.05</text>
<text x="63.0" y="1115.6" font-size="5.2" text-anchor="end" fill="#333" stroke="#333" stroke-width="0.1" >0.10</text>
<text x="63.0" y="1102.7" font-size="5.2" text-anchor="end" fill="#333" stroke="#333" stroke-width="0.1" >0.15</text>
<text x="63.0" y="1089.7" font-size="5.2" text-anchor="end" fill="#333" stroke="#333" stroke-width="0.1" >0.20</text>
<text x="63.0" y="1076.8" font-size="5.2" text-anchor="end" fill="#333" stroke="#333" stroke-width="0.1" >0.25</text>
<text x="63.0" y="1063.8" font-size="5.2" text-anchor="end" fill="#333" stroke="#333" stroke-width="0.1" >0.30</text>
<text x="63.0" y="1050.8" font-size="5.2" text-anchor="end" fill="#333" stroke="#333" stroke-width="0.1" >0.35</text>
<text x="63.0" y="1037.9" font-size="5.2" text-anchor="end" fill="#333" stroke="#333" stroke-width="0.1" >0.40</text>
<g stroke-width="0.6">
<rect x="66.13" y="1146.5" width="1.88" height="39.5" fill="#000"/>
<rect x="68.52" y="1146.5" width="1.11" height="39.5" fill="#000"/>
<rect x="70.05" y="1146.5" width="1.37" height="39.5" fill="#000"/>
<rect x="71.82" y="1146.5" width="0.82" height="39.5" fill="#000"/>
<rect x="73.30" y="1146.5" width="2.34" height="39.5" fill="#000"/>
<rect x="76.21" y="1146.5" width="2.17" height="39.5" fill="#000"/>
<rect x="81.46" y="1146.5" width="2.07" height="39.5" fill="#000"/>
<rect x="83.92" y="1146.5" width="1.97" height="39.5" fill="#000"/>
<rect x="86.41" y="1146.5" width="2.24" height="39.5" fill="#000"/>
<rect x="88.99" y="1146.5" width="2.05" height="39.5" fill="#000"/>
<rect x="91.38" y="1146.5" width="1.61" height="39.5" fill="#000"/>
<rect x="93.68" y="1146.5" width="0.45" height="39.5" fill="#000"/>
<rect x="96.17" y="1146.5" width="1.21" height="39.5" fill="#000"/>
<rect x="97.81" y="1146.5" width="0.81" height="39.5" fill="#000"/>
<rect x="99.28" y="1146.5" width="2.09" height="39.5" fill="#000"/>
<rect x="101.82" y="1146.5" width="1.31" height="39.5" fill="#000"/>
<rect x="103.66" y="1146.5" width="0.78" height="39.5" fill="#000"/>
<rect x="104.75" y="1146.5" width="1.23" height="39.5" fill="#000"/>
<rect x="105.98" y="1146.5" width="1.55" height="39.5" fill="#000"/>
<rect x="108.20" y="1146.5" width="2.36" height="39.5" fill="#000"/>
<rect x="111.06" y="1146.5" width="1.05" height="39.5" fill="#000"/>
<rect x="112.52" y="1146.5" width="2.27" height="39.5" fill="#000"/>
<rect x="115.45" y="1146.5" width="1.03" height="39.5" fill="#000"/>
<rect x="117.12" y="1146.5" width="1.13" height="39.5" fill="#000"/>
<rect x="118.86" y="1146.5" width="0.54" height="39.5" fill="#444"/>
<rect x="121.31" y="1146.5" width="0.60" height="39.5" fill="#000"/>
<rect x="122.70" y="1146.5" width="0.94" height="39.5" fill="#000"/>
<rect x="124.35" y="1146.5" width="0.86" height="39.5" fill="#000"/>
<rect x="126.71" y="1146.5" width="0.93" height="39.5" fill="#444"/>
<rect x="128.38" y="1146.5" width="0.85" height="39.5" fill="#444"/>
<rect x="130.28" y="1146.5" width="0.54" height="39.5" fill="#000"/>
<rect x="131.72" y="1146.5" width="0.86" height="39.5" fill="#000"/>
<rect x="133.36" y="1146.5" width="0.62" height="39.5" fill="#000"/>
<rect x="139.09" y="1146.5" width="1.33" height="39.5" fill="#000"/>
<rect x="140.99" y="1146.5" width="2.20" height="39.5" fill="#000"/>
<rect x="143.73" y="1146.5" width="1.09" height="39.5" fill="#000"/>
<rect x="145.24" y="1146.5" width="2.28" height="39.5" fill="#000"/>
<rect x="148.08" y="1146.5" width="0.82" height="39.5" fill="#000"/>
<rect x="149.52" y="1146.5" width="0.52" height="39.5" fill="#444"/>
<rect x="151.97" y="1146.5" width="1.60" height="39.5" fill="#000"/>
<rect x="154.08" y="1146.5" width="0.78" height="39.5" fill="#000"/>
<rect x="155.40" y="1146.5" width="1.18" height="39.5" fill="#000"/>
<rect x="156.98" y="1146.5" width="2.07" height="39.5" fill="#000"/>
<rect x="159.38" y="1146.5" width="1.18" height="39.5" fill="#000"/>
<rect x="161.17" y="1146.5" width="1.12" height="39.5" fill="#000"/>
<rect x="162.70" y="1146.5" width="1.63" height="39.5" fill="#000"/>
<rect x="164.70" y="1146.5" width="2.22" height="39.5" fill="#000"/>
<rect x="167.62" y="1146.5" width="0.76" height="39.5" fill="#000"/>
<rect x="168.86" y="1146.5" width="1.98" height="39.5" fill="#000"/>
<rect x="171.29" y="1146.5" width="0.60" height="39.5" fill="#000"/>
<rect x="171.89" y="1146.5" width="0.59" height="39.5" fill="#000"/>
<rect x="173.73" y="1146.5" width="0.68" height="39.5" fill="#000"/>
<rect x="175.79" y="1146.5" width="0.76" height="39.5" fill="#000"/>
<rect x="178.00" y="1146.5" width="0.45" height="39.5" fill="#000"/>
<rect x="182.01" y="1146.5" width="0.59" height="39.5" fill="#444"/>
<rect x="183.36" y="1146.5" width="0.80" height="39.5" fill="#000"/>
<rect x="185.21" y="1146.5" width="0.89" height="39.5" fill="#444"/>
<rect x="199.48" y="1146.5" width="0.62" height="39.5" fill="#000"/>
<rect x="200.92" y="1146.5" width="0.79" height="39.5" fill="#000"/>
<rect x="202.35" y="1146.5" width="0.80" height="39.5" fill="#444"/>
<rect x="204.32" y="1146.5" width="0.94" height="39.5" fill="#000"/>
<rect x="206.01" y="1146.5" width="0.51" height="39.5" fill="#000"/>
<rect x="207.55" y="1146.5" width="0.72" height="39.5" fill="#000"/>
<rect x="209.67" y="1146.5" width="0.54" height="39.5" fill="#444"/>
<rect x="213.28" y="1146.5" width="0.77" height="39.5" fill="#444"/>
<rect x="214.89" y="1146.5" width="0.57" height="39.5" fill="#000"/>
<rect x="216.11" y="1146.5" width="0.66" height="39.5" fill="#000"/>
<rect x="217.89" y="1146.5" width="0.63" height="39.5" fill="#000"/>
<rect x="219.21" y="1146.5" width="0.91" height="39.5" fill="#000"/>
<rect x="224.93" y="1146.5" width="0.97" height="39.5" fill="#000"/>
<rect x="226.48" y="1146.5" width="2.11" height="39.5" fill="#000"/>
<rect x="231.67" y="1146.5" width="0.52" height="39.5" fill="#000"/>
<rect x="234.45" y="1146.5" width="0.55" height="39.5" fill="#444"/>
<rect x="236.67" y="1146.5" width="0.62" height="39.5" fill="#444"/>
<rect x="240.67" y="1146.5" width="0.54" height="39.5" fill="#000"/>
<rect x="244.15" y="1146.5" width="0.51" height="39.5" fill="#000"/>
</g>
<rect x="65.2" y="1186" width="3.7" height="10.6" fill="#d62e32"/>
<rect x="68.6" y="1186" width="3.7" height="10.6" fill="#d93236"/>
<rect x="71.9" y="1186" width="3.7" height="10.6" fill="#dd363a"/>
<rect x="75.3" y="1186" width="3.7" height="10.6" fill="#e03a3e"/>
<rect x="78.7" y="1186" width="3.7" height="10.6" fill="#e33e42"/>
<rect x="82.1" y="1186" width="3.7" height="10.6" fill="#e74246"/>
<rect x="85.4" y="1186" width="3.7" height="10.6" fill="#ea464a"/>
<rect x="88.8" y="1186" width="3.5" height="10.6" fill="#ed4a4e"/>
<rect x="92.0" y="1186" width="3.5" height="10.6" fill="#ee4f53"/>
<rect x="95.3" y="1186" width="3.5" height="10.6" fill="#ef5457"/>
<rect x="98.5" y="1186" width="3.5" height="10.6" fill="#f0595c"/>
<rect x="101.7" y="1186" width="3.5" height="10.6" fill="#f15e60"/>
<rect x="105.0" y="1186" width="3.5" height="10.6" fill="#f26365"/>
<rect x="108.2" y="1186" width="3.5" height="10.6" fill="#f3686a"/>
<rect x="111.4" y="1186" width="3.5" height="10.6" fill="#f46c6e"/>
<rect x="114.7" y="1186" width="3.5" height="10.6" fill="#f57173"/>
<rect x="117.9" y="1186" width="3.5" height="10.6" fill="#f67677"/>
<rect x="121.2" y="1186" width="3.5" height="10.6" fill="#f77b7c"/>
<rect x="124.4" y="1186" width="3.5" height="10.6" fill="#f88080"/>
<rect x="127.6" y="1186" width="3.5" height="10.6" fill="#f98585"/>
<rect x="130.9" y="1186" width="3.7" height="10.6" fill="#fab3d8"/>
<rect x="134.2" y="1186" width="3.7" height="10.6" fill="#f9b6dc"/>
<rect x="137.6" y="1186" width="3.7" height="10.6" fill="#f8b9de"/>
<rect x="141.0" y="1186" width="3.7" height="10.6" fill="#f7bce2"/>
<rect x="144.4" y="1186" width="3.7" height="10.6" fill="#f6bfe4"/>
<rect x="147.8" y="1186" width="3.6" height="10.6" fill="#d5cffa"/>
<rect x="151.1" y="1186" width="3.6" height="10.6" fill="#d4cefa"/>
<rect x="154.4" y="1186" width="3.6" height="10.6" fill="#d3cdfa"/>
<rect x="157.8" y="1186" width="3.6" height="10.6" fill="#d1cbfa"/>
<rect x="161.1" y="1186" width="3.6" height="10.6" fill="#d0cafa"/>
<rect x="164.4" y="1186" width="3.6" height="10.6" fill="#cec8fa"/>
<rect x="167.7" y="1186" width="3.6" height="10.6" fill="#cdc7fa"/>
<rect x="171.1" y="1186" width="3.6" height="10.6" fill="#ccc6fa"/>
<rect x="174.4" y="1186" width="3.6" height="10.6" fill="#cac4fa"/>
<rect x="177.7" y="1186" width="3.6" height="10.6" fill="#c9c3fa"/>
<rect x="181.0" y="1186" width="3.6" height="10.6" fill="#c7c1fa"/>
<rect x="184.4" y="1186" width="3.6" height="10.6" fill="#c6c0fa"/>
<rect x="187.7" y="1186" width="3.6" height="10.6" fill="#c5bffa"/>
<rect x="191.0" y="1186" width="3.6" height="10.6" fill="#8b8bfa"/>
<rect x="194.3" y="1186" width="3.6" height="10.6" fill="#8988f9"/>
<rect x="197.6" y="1186" width="3.6" height="10.6" fill="#8786f8"/>
<rect x="201.0" y="1186" width="3.6" height="10.6" fill="#8584f8"/>
<rect x="204.3" y="1186" width="3.6" height="10.6" fill="#8382f7"/>
<rect x="207.6" y="1186" width="3.6" height="10.6" fill="#817ff6"/>
<rect x="210.9" y="1186" width="3.7" height="10.6" fill="#6b65ea"/>
<rect x="214.3" y="1186" width="3.7" height="10.6" fill="#6a63e8"/>
<rect x="217.7" y="1186" width="3.7" height="10.6" fill="#6862e8"/>
<rect x="221.1" y="1186" width="3.7" height="10.6" fill="#6660e6"/>
<rect x="224.5" y="1186" width="3.7" height="10.6" fill="#655ee6"/>
<rect x="227.9" y="1186" width="3.7" height="10.6" fill="#635ce4"/>
<rect x="231.3" y="1186" width="3.7" height="10.6" fill="#625ae4"/>
<rect x="234.7" y="1186" width="3.7" height="10.6" fill="#6058e2"/>
<rect x="238.1" y="1186" width="3.7" height="10.6" fill="#5e57e2"/>
<rect x="241.5" y="1186" width="3.7" height="10.6" fill="#5d55e0"/>
<rect x="244.9" y="1186" width="3.7" height="10.6" fill="#270ac8"/>
<rect x="248.3" y="1186" width="3.7" height="10.6" fill="#2609c7"/>
<rect x="251.7" y="1186" width="3.7" height="10.6" fill="#2508c6"/>
<rect x="255.0" y="1186" width="3.7" height="10.6" fill="#2407c5"/>
<rect x="258.4" y="1186" width="3.7" height="10.6" fill="#2306c4"/>
<path d="M65.2 1139.4L66.6 1133.1L68.0 1127.1L69.2 1121.8L70.3 1118.4L71.5 1113.1L72.7 1108.3L73.8 1103.8L75.0 1099.1L76.8 1086.8L78.0 1084.4L79.2 1081.6L81.3 1085.1L82.5 1079.6L83.6 1073.9L84.8 1067.6L86.2 1062.7L87.7 1058.0L89.1 1053.5L90.5 1049.3L91.9 1044.7L93.3 1041.3L94.4 1039.8L95.5 1038.9L96.7 1038.0L97.8 1036.0L99.1 1035.3L100.4 1034.0L101.8 1032.8L103.1 1031.5L104.3 1031.2L105.4 1031.9L106.6 1032.5L107.9 1031.4L109.2 1031.0L110.5 1029.3L111.8 1029.0L113.1 1028.8L114.4 1029.0L115.8 1029.4L117.1 1029.0L118.3 1030.5L119.4 1031.3L120.6 1031.7L121.8 1033.6L122.9 1034.8L124.1 1035.3L125.2 1036.2L126.3 1036.8L127.4 1037.9L128.5 1038.3L129.6 1040.0L130.7 1041.2L131.8 1041.4L132.9 1042.3L134.0 1043.6L135.1 1044.8L136.2 1044.9L137.3 1047.0L138.4 1047.6L139.6 1048.0L140.7 1048.8L141.8 1050.1L142.9 1051.6L144.0 1052.8L145.1 1053.5L146.3 1054.6L147.4 1056.8L148.6 1057.4L149.8 1058.9L150.9 1059.8L152.1 1062.4L153.3 1062.6L154.4 1065.0L155.6 1065.8L156.8 1067.0L157.9 1068.2L159.1 1069.4L160.3 1070.1L161.4 1072.2L162.6 1073.5L163.8 1074.4L164.9 1075.3L166.1 1076.3L167.3 1075.8L168.4 1076.8L169.6 1076.0L170.8 1076.9L171.9 1075.9L173.1 1076.3L174.2 1077.6L175.3 1079.2L176.4 1079.5L177.5 1081.3L178.6 1081.8L179.7 1083.0L180.8 1084.4L181.9 1086.1L183.2 1087.0L184.6 1087.1L185.9 1086.8L187.2 1086.8L188.4 1088.3L189.5 1090.5L190.7 1092.4L191.9 1093.6L193.0 1095.7L194.2 1097.3L195.4 1099.1L196.5 1099.3L197.7 1100.9L198.9 1102.7L200.0 1103.6L201.2 1105.4L202.4 1105.2L203.5 1105.5L204.7 1104.9L205.9 1105.4L207.0 1105.1L208.2 1105.4L209.5 1106.5L210.8 1107.3L212.1 1108.7L213.4 1109.6L214.6 1108.3L215.7 1108.4L216.9 1107.0L218.1 1107.4L219.2 1106.2L220.4 1105.4L221.6 1107.0L222.7 1108.5L223.9 1110.3L225.1 1109.1L226.3 1107.8L227.5 1106.1L228.7 1107.5L230.0 1108.5L231.2 1109.1L232.5 1110.8L233.7 1111.6L235.0 1112.6L236.2 1113.1L237.6 1111.8L239.0 1110.7L240.4 1109.6L241.6 1110.1L242.7 1111.1L243.8 1111.0L245.0 1111.4L246.1 1112.9L247.2 1114.3L248.3 1116.4L249.4 1117.0L250.5 1118.1L251.6 1120.6L252.7 1122.3L253.8 1123.5L254.9 1124.8L256.1 1126.5L257.2 1127.3L258.3 1129.2L259.4 1130.0L260.5 1131.5L261.6 1133.4L262.7 1135.0L263.8 1136.3L264.9 1137.3L266.0 1139.4" fill="none" stroke="#0f0" stroke-width="2.3" stroke-linejoin="round"/>
<rect x="262.2" y="1186.4" width="16" height="12" fill="#fff"/><rect x="276.8" y="1043" width="1.5" height="155" fill="#fff"/>
<rect x="185" y="1026" width="80" height="52" fill="#fff"/>
<text x="186.5" y="1039.1" font-size="14.5" text-anchor="start" fill="#000" stroke="#000" stroke-width="0.35" >NES 2,5</text>
<text x="186.5" y="1056.3" font-size="14.5" text-anchor="start" fill="#000" stroke="#000" stroke-width="0.35" >P &lt;0.001***</text>
<text x="186.5" y="1073.6" font-size="14.5" text-anchor="start" fill="#000" stroke="#000" stroke-width="0.35" >FDR 0.0</text>
<text x="69.3" y="1218.3" font-size="16.9" text-anchor="start" fill="#ff1a1a" stroke="#ff1a1a" stroke-width="0.35" >High USP7 patients</text>
<text x="365.5" y="989.4" font-size="18" text-anchor="start" fill="#000" stroke="#000" stroke-width="0.35" font-weight="bold" >H</text>
<text x="530.2" y="993.1" font-size="16.1" text-anchor="middle" fill="#000" stroke="#000" stroke-width="0.35" >In Verhack data base</text>
<text x="530.2" y="1011.8" font-size="16.1" text-anchor="middle" fill="#000" stroke="#000" stroke-width="0.35" >Signature UP Cluster 1 (220 genes)</text>
<text transform="translate(384.5,1115.9) rotate(-90)" font-size="17.0" text-anchor="middle" fill="#000" stroke="#000" stroke-width="0.35">Enrichment Score (ES)</text>
<rect x="404.2" y="1025.1" width="227.6" height="173.1" fill="#ece9d8"/>
<rect x="417.5" y="1026.6" width="213.1" height="170.7" fill="#fff"/>
<path d="M442.0 1026.6V1146.5M467.4 1026.6V1146.5M492.8 1026.6V1146.5M518.2 1026.6V1146.5M543.6 1026.6V1146.5M569.0 1026.6V1146.5M594.4 1026.6V1146.5M619.8 1026.6V1146.5M417.5 1139.5H630.6M417.5 1121.0H630.6M417.5 1102.5H630.6M417.5 1084.1H630.6M417.5 1065.6H630.6M417.5 1047.1H630.6M417.5 1028.6H630.6" stroke="#e2e2e2" stroke-width="0.6" stroke-dasharray="1 1.2" fill="none"/>
<path d="M417.5 1026.6V1197.3M417.5 1026.6H630.6M630.6 1026.6V1197.3M417.5 1146.5H630.6M417.5 1187.8H630.6" stroke="#a8a8a8" stroke-width="0.7" fill="none"/>
<path d="M417.5 1139.5H630.6" stroke="#8a8a8a" stroke-width="0.8"/>
<text x="415.3" y="1141.6" font-size="5.1" text-anchor="end" fill="#333" stroke="#333" stroke-width="0.1" >0.0</text>
<text x="415.3" y="1123.1" font-size="5.1" text-anchor="end" fill="#333" stroke="#333" stroke-width="0.1" >0.1</text>
<text x="415.3" y="1104.6" font-size="5.1" text-anchor="end" fill="#333" stroke="#333" stroke-width="0.1" >0.2</text>
<text x="415.3" y="1086.2" font-size="5.1" text-anchor="end" fill="#333" stroke="#333" stroke-width="0.1" >0.3</text>
<text x="415.3" y="1067.7" font-size="5.1" text-anchor="end" fill="#333" stroke="#333" stroke-width="0.1" >0.4</text>
<text x="415.3" y="1049.2" font-size="5.1" text-anchor="end" fill="#333" stroke="#333" stroke-width="0.1" >0.5</text>
<text x="415.3" y="1030.7" font-size="5.1" text-anchor="end" fill="#333" stroke="#333" stroke-width="0.1" >0.6</text>
<g stroke-width="0.6">
<rect x="417.39" y="1148.2" width="1.69" height="39.6" fill="#000"/>
<rect x="419.66" y="1148.2" width="1.64" height="39.6" fill="#000"/>
<rect x="421.88" y="1148.2" width="0.74" height="39.6" fill="#000"/>
<rect x="423.07" y="1148.2" width="1.32" height="39.6" fill="#000"/>
<rect x="424.72" y="1148.2" width="1.39" height="39.6" fill="#000"/>
<rect x="426.43" y="1148.2" width="1.54" height="39.6" fill="#000"/>
<rect x="428.51" y="1148.2" width="1.50" height="39.6" fill="#000"/>
<rect x="430.43" y="1148.2" width="1.13" height="39.6" fill="#000"/>
<rect x="431.87" y="1148.2" width="1.29" height="39.6" fill="#000"/>
<rect x="433.82" y="1148.2" width="1.66" height="39.6" fill="#000"/>
<rect x="435.89" y="1148.2" width="1.84" height="39.6" fill="#000"/>
<rect x="438.10" y="1148.2" width="1.50" height="39.6" fill="#000"/>
<rect x="440.14" y="1148.2" width="2.32" height="39.6" fill="#000"/>
<rect x="442.91" y="1148.2" width="0.67" height="39.6" fill="#000"/>
<rect x="443.58" y="1148.2" width="2.01" height="39.6" fill="#000"/>
<rect x="446.14" y="1148.2" width="1.76" height="39.6" fill="#000"/>
<rect x="448.36" y="1148.2" width="1.41" height="39.6" fill="#000"/>
<rect x="450.18" y="1148.2" width="2.11" height="39.6" fill="#000"/>
<rect x="452.94" y="1148.2" width="1.35" height="39.6" fill="#000"/>
<rect x="454.95" y="1148.2" width="0.76" height="39.6" fill="#000"/>
<rect x="456.07" y="1148.2" width="1.56" height="39.6" fill="#000"/>
<rect x="458.06" y="1148.2" width="1.31" height="39.6" fill="#000"/>
<rect x="460.06" y="1148.2" width="0.95" height="39.6" fill="#000"/>
<rect x="461.39" y="1148.2" width="1.09" height="39.6" fill="#000"/>
<rect x="463.05" y="1148.2" width="1.10" height="39.6" fill="#000"/>
<rect x="464.45" y="1148.2" width="1.62" height="39.6" fill="#000"/>
<rect x="466.54" y="1148.2" width="1.11" height="39.6" fill="#000"/>
<rect x="468.14" y="1148.2" width="1.81" height="39.6" fill="#000"/>
<rect x="477.16" y="1148.2" width="0.66" height="39.6" fill="#000"/>
<rect x="480.91" y="1148.2" width="0.74" height="39.6" fill="#000"/>
<rect x="483.20" y="1148.2" width="0.72" height="39.6" fill="#000"/>
<rect x="486.81" y="1148.2" width="0.67" height="39.6" fill="#000"/>
<rect x="493.95" y="1148.2" width="0.71" height="39.6" fill="#000"/>
<rect x="497.37" y="1148.2" width="0.60" height="39.6" fill="#000"/>
<rect x="501.34" y="1148.2" width="0.64" height="39.6" fill="#444"/>
<rect x="503.11" y="1148.2" width="0.62" height="39.6" fill="#000"/>
<rect x="514.10" y="1148.2" width="0.54" height="39.6" fill="#000"/>
<rect x="516.47" y="1148.2" width="0.52" height="39.6" fill="#000"/>
<rect x="522.49" y="1148.2" width="0.85" height="39.6" fill="#000"/>
<rect x="527.53" y="1148.2" width="0.89" height="39.6" fill="#000"/>
<rect x="529.18" y="1148.2" width="0.45" height="39.6" fill="#444"/>
<rect x="531.56" y="1148.2" width="0.61" height="39.6" fill="#000"/>
<rect x="534.89" y="1148.2" width="0.65" height="39.6" fill="#444"/>
<rect x="537.76" y="1148.2" width="0.73" height="39.6" fill="#000"/>
<rect x="540.79" y="1148.2" width="0.74" height="39.6" fill="#444"/>
<rect x="544.28" y="1148.2" width="0.69" height="39.6" fill="#000"/>
<rect x="547.61" y="1148.2" width="0.71" height="39.6" fill="#444"/>
<rect x="551.03" y="1148.2" width="0.58" height="39.6" fill="#000"/>
<rect x="554.22" y="1148.2" width="0.61" height="39.6" fill="#000"/>
<rect x="556.84" y="1148.2" width="0.70" height="39.6" fill="#444"/>
<rect x="560.41" y="1148.2" width="0.58" height="39.6" fill="#000"/>
<rect x="562.79" y="1148.2" width="0.66" height="39.6" fill="#000"/>
<rect x="566.73" y="1148.2" width="0.75" height="39.6" fill="#000"/>
<rect x="570.36" y="1148.2" width="0.53" height="39.6" fill="#000"/>
<rect x="573.00" y="1148.2" width="0.68" height="39.6" fill="#444"/>
<rect x="575.50" y="1148.2" width="0.58" height="39.6" fill="#000"/>
<rect x="578.66" y="1148.2" width="0.62" height="39.6" fill="#000"/>
<rect x="581.44" y="1148.2" width="0.70" height="39.6" fill="#444"/>
<rect x="584.25" y="1148.2" width="0.60" height="39.6" fill="#000"/>
<rect x="587.82" y="1148.2" width="0.45" height="39.6" fill="#000"/>
<rect x="587.97" y="1148.2" width="0.77" height="39.6" fill="#444"/>
<rect x="589.49" y="1148.2" width="0.59" height="39.6" fill="#000"/>
<rect x="591.61" y="1148.2" width="0.63" height="39.6" fill="#000"/>
<rect x="592.96" y="1148.2" width="0.66" height="39.6" fill="#000"/>
<rect x="594.79" y="1148.2" width="0.57" height="39.6" fill="#000"/>
<rect x="596.23" y="1148.2" width="0.61" height="39.6" fill="#000"/>
<rect x="597.81" y="1148.2" width="0.63" height="39.6" fill="#000"/>
<rect x="599.11" y="1148.2" width="0.95" height="39.6" fill="#000"/>
<rect x="600.73" y="1148.2" width="0.59" height="39.6" fill="#000"/>
<rect x="602.92" y="1148.2" width="0.45" height="39.6" fill="#444"/>
<rect x="603.08" y="1148.2" width="1.40" height="39.6" fill="#000"/>
<rect x="605.11" y="1148.2" width="1.37" height="39.6" fill="#000"/>
<rect x="606.81" y="1148.2" width="1.64" height="39.6" fill="#000"/>
<rect x="609.01" y="1148.2" width="1.76" height="39.6" fill="#000"/>
<rect x="611.18" y="1148.2" width="2.30" height="39.6" fill="#000"/>
<rect x="614.12" y="1148.2" width="0.72" height="39.6" fill="#000"/>
<rect x="618.19" y="1148.2" width="0.92" height="39.6" fill="#444"/>
</g>
<rect x="417.5" y="1187.8" width="3.8" height="9.5" fill="#d62e32"/>
<rect x="421.0" y="1187.8" width="3.8" height="9.5" fill="#d93236"/>
<rect x="424.4" y="1187.8" width="3.8" height="9.5" fill="#dd363a"/>
<rect x="427.9" y="1187.8" width="3.8" height="9.5" fill="#e03a3e"/>
<rect x="431.4" y="1187.8" width="3.8" height="9.5" fill="#e33e42"/>
<rect x="434.9" y="1187.8" width="3.8" height="9.5" fill="#e74246"/>
<rect x="438.3" y="1187.8" width="3.8" height="9.5" fill="#ea464a"/>
<rect x="441.8" y="1187.8" width="3.8" height="9.5" fill="#ed4b4f"/>
<rect x="445.3" y="1187.8" width="3.8" height="9.5" fill="#ee5155"/>
<rect x="448.9" y="1187.8" width="3.8" height="9.5" fill="#f0585b"/>
<rect x="452.4" y="1187.8" width="3.8" height="9.5" fill="#f15e61"/>
<rect x="456.0" y="1187.8" width="3.8" height="9.5" fill="#f26467"/>
<rect x="459.5" y="1187.8" width="3.8" height="9.5" fill="#f46b6c"/>
<rect x="463.1" y="1187.8" width="3.8" height="9.5" fill="#f57172"/>
<rect x="466.6" y="1187.8" width="3.8" height="9.5" fill="#f67778"/>
<rect x="470.1" y="1187.8" width="3.8" height="9.5" fill="#f87e7e"/>
<rect x="473.7" y="1187.8" width="3.8" height="9.5" fill="#f98484"/>
<rect x="477.2" y="1187.8" width="3.8" height="9.5" fill="#fab3d8"/>
<rect x="480.7" y="1187.8" width="3.8" height="9.5" fill="#f9b4d9"/>
<rect x="484.2" y="1187.8" width="3.8" height="9.5" fill="#f9b6db"/>
<rect x="487.6" y="1187.8" width="3.8" height="9.5" fill="#f9b7dc"/>
<rect x="491.1" y="1187.8" width="3.8" height="9.5" fill="#f8b8de"/>
<rect x="494.6" y="1187.8" width="3.8" height="9.5" fill="#f8badf"/>
<rect x="498.0" y="1187.8" width="3.8" height="9.5" fill="#f7bbe1"/>
<rect x="501.5" y="1187.8" width="3.8" height="9.5" fill="#f7bce2"/>
<rect x="504.9" y="1187.8" width="3.8" height="9.5" fill="#f7bee4"/>
<rect x="508.4" y="1187.8" width="3.8" height="9.5" fill="#f6bfe5"/>
<rect x="511.9" y="1187.8" width="3.8" height="9.5" fill="#d5cffa"/>
<rect x="515.3" y="1187.8" width="3.8" height="9.5" fill="#d4cefa"/>
<rect x="518.8" y="1187.8" width="3.8" height="9.5" fill="#d3cdfa"/>
<rect x="522.3" y="1187.8" width="3.8" height="9.5" fill="#d2ccfa"/>
<rect x="525.7" y="1187.8" width="3.8" height="9.5" fill="#d1cbfa"/>
<rect x="529.2" y="1187.8" width="3.8" height="9.5" fill="#cfc9fa"/>
<rect x="532.7" y="1187.8" width="3.8" height="9.5" fill="#cec8fa"/>
<rect x="536.2" y="1187.8" width="3.8" height="9.5" fill="#cdc7fa"/>
<rect x="539.6" y="1187.8" width="3.8" height="9.5" fill="#ccc6fa"/>
<rect x="543.1" y="1187.8" width="3.8" height="9.5" fill="#cbc5fa"/>
<rect x="546.6" y="1187.8" width="3.8" height="9.5" fill="#c9c3fa"/>
<rect x="550.0" y="1187.8" width="3.8" height="9.5" fill="#c8c2fa"/>
<rect x="553.5" y="1187.8" width="3.8" height="9.5" fill="#c7c1fa"/>
<rect x="557.0" y="1187.8" width="3.8" height="9.5" fill="#c6c0fa"/>
<rect x="560.4" y="1187.8" width="3.8" height="9.5" fill="#c5bffa"/>
<rect x="563.9" y="1187.8" width="3.5" height="9.5" fill="#8a8afa"/>
<rect x="567.1" y="1187.8" width="3.5" height="9.5" fill="#8787f9"/>
<rect x="570.2" y="1187.8" width="3.5" height="9.5" fill="#8483f8"/>
<rect x="573.4" y="1187.8" width="3.5" height="9.5" fill="#817ff7"/>
<rect x="576.5" y="1187.8" width="3.5" height="9.5" fill="#7e7cf6"/>
<rect x="579.7" y="1187.8" width="3.8" height="9.5" fill="#6b65e9"/>
<rect x="583.2" y="1187.8" width="3.8" height="9.5" fill="#6962e8"/>
<rect x="586.8" y="1187.8" width="3.8" height="9.5" fill="#6660e7"/>
<rect x="590.3" y="1187.8" width="3.8" height="9.5" fill="#645de5"/>
<rect x="593.8" y="1187.8" width="3.8" height="9.5" fill="#625be4"/>
<rect x="597.4" y="1187.8" width="3.8" height="9.5" fill="#6059e3"/>
<rect x="600.9" y="1187.8" width="3.8" height="9.5" fill="#5e56e1"/>
<rect x="604.4" y="1187.8" width="3.8" height="9.5" fill="#5b54e0"/>
<rect x="608.0" y="1187.8" width="3.8" height="9.5" fill="#5951df"/>
<rect x="611.5" y="1187.8" width="3.1" height="9.5" fill="#2709c7"/>
<rect x="614.3" y="1187.8" width="3.1" height="9.5" fill="#2508c6"/>
<rect x="617.2" y="1187.8" width="3.1" height="9.5" fill="#2307c5"/>
<path d="M417.5 1139.4L418.2 1102.6L419.6 1081.6L421.7 1065.8L423.4 1060.2L425.2 1055.3L426.7 1052.3L428.3 1049.3L429.8 1046.5L431.1 1045.1L432.4 1043.5L433.7 1042.2L435.0 1041.3L436.3 1041.1L437.5 1040.3L438.8 1039.7L440.0 1038.7L441.3 1038.1L442.5 1037.7L443.8 1037.1L445.2 1036.6L446.6 1036.6L448.0 1036.8L449.4 1036.1L450.8 1036.0L452.3 1034.7L453.9 1034.1L455.4 1032.5L456.8 1032.6L458.2 1032.1L459.6 1032.5L460.9 1033.5L462.2 1034.7L463.5 1035.3L464.8 1036.7L466.1 1037.1L467.5 1037.9L468.8 1038.6L470.1 1038.8L471.3 1039.8L472.5 1041.0L473.8 1041.6L475.0 1042.5L476.2 1043.9L477.4 1044.4L478.6 1045.7L479.9 1046.1L481.1 1047.2L482.3 1048.3L483.5 1049.1L484.7 1050.6L485.9 1051.3L487.1 1052.5L488.3 1053.6L489.5 1054.9L490.7 1055.9L491.9 1057.1L493.1 1058.7L494.3 1059.5L495.5 1060.8L496.7 1061.3L497.9 1062.6L499.1 1063.4L500.3 1065.1L501.5 1065.9L502.7 1066.9L503.9 1067.8L505.1 1069.3L506.3 1070.1L507.5 1071.3L508.7 1072.6L509.9 1074.2L511.2 1075.1L512.4 1075.8L513.6 1077.0L514.8 1078.0L516.0 1079.8L517.2 1080.4L518.4 1081.9L519.6 1083.0L520.8 1084.3L522.0 1084.6L523.3 1086.0L524.5 1087.2L525.7 1088.0L526.9 1089.9L528.1 1090.5L529.3 1092.0L530.5 1092.9L531.7 1093.6L532.9 1095.1L534.1 1096.0L535.4 1097.0L536.6 1098.2L537.8 1099.7L539.0 1100.4L540.2 1101.9L541.5 1102.8L542.7 1103.9L544.0 1105.1L545.2 1105.8L546.5 1107.3L547.7 1108.0L549.0 1109.5L550.2 1110.4L551.5 1111.0L552.7 1112.1L554.0 1113.3L555.2 1114.7L556.5 1115.5L557.7 1116.6L559.0 1117.4L560.2 1118.7L561.5 1119.0L562.7 1119.9L564.0 1120.9L565.2 1121.6L566.5 1122.3L567.7 1123.2L569.0 1124.6L570.2 1125.4L571.5 1126.5L572.7 1127.6L574.0 1127.8L575.2 1128.9L576.5 1129.8L577.7 1130.7L579.0 1130.7L580.3 1131.9L581.6 1132.5L582.8 1133.5L584.1 1134.1L585.4 1134.3L586.7 1135.3L587.9 1135.5L589.2 1136.6L590.6 1137.1L592.0 1137.6L593.4 1137.9L594.8 1138.7L596.2 1139.4L597.6 1139.6L599.0 1140.1L600.4 1140.2L601.8 1140.5L603.2 1141.1L604.5 1140.6L605.7 1140.3L607.0 1139.6L608.2 1139.6L609.5 1138.9L610.7 1138.3L612.0 1138.3L613.5 1138.9L615.0 1139.6L616.5 1140.4L618.2 1139.2L620.0 1138.7" fill="none" stroke="#0f0" stroke-width="2.3" stroke-linejoin="round"/>
<text x="546.2" y="1046.2" font-size="14.5" text-anchor="start" fill="#000" stroke="#000" stroke-width="0.35" >NES 2.2</text>
<text x="546.2" y="1063.6" font-size="14.5" text-anchor="start" fill="#000" stroke="#000" stroke-width="0.35" >P &lt;0.001***</text>
<text x="546.2" y="1081.6" font-size="14.5" text-anchor="start" fill="#000" stroke="#000" stroke-width="0.35" >FDR 0.0</text>
<text x="418.2" y="1219.3" font-size="16.8" text-anchor="start" fill="#ff1a1a" stroke="#ff1a1a" stroke-width="0.35" >High USP7 patients</text>
</svg>
</body></html>
